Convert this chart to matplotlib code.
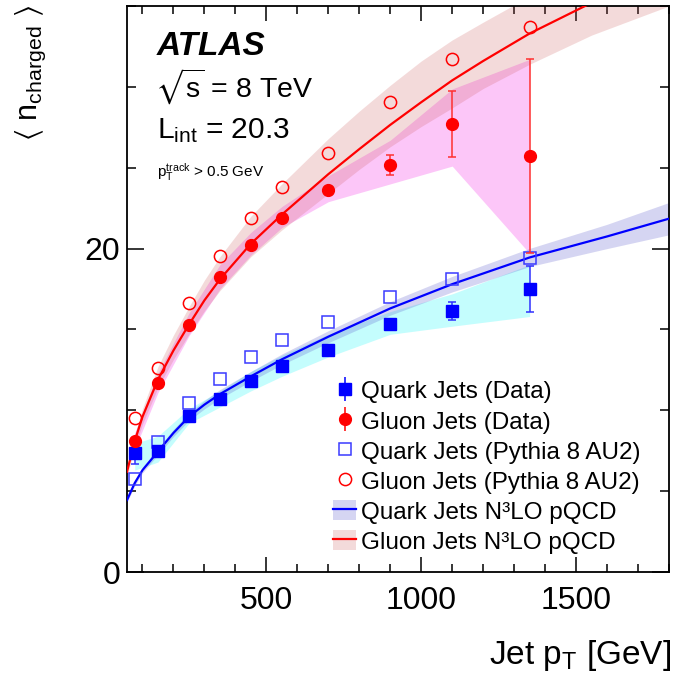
import matplotlib
matplotlib.use("Agg")
import matplotlib.pyplot as plt
from matplotlib.ticker import MultipleLocator, FixedLocator
from matplotlib.patches import Patch
from matplotlib.lines import Line2D

plt.rcParams['font.family'] = ['Liberation Sans', 'DejaVu Sans']
plt.rcParams['mathtext.fontset'] = 'custom'
plt.rcParams['mathtext.rm'] = 'Liberation Sans'
plt.rcParams['mathtext.it'] = 'Liberation Sans:italic'
plt.rcParams['mathtext.bf'] = 'Liberation Sans:bold'
plt.rcParams['mathtext.fallback'] = 'stixsans'

# ---------------- data ----------------
pt = [75, 150, 250, 350, 450, 550, 700, 900, 1100, 1350]

quark_data = [7.33, 7.47, 9.67, 10.68, 11.82, 12.75, 13.74, 15.33, 16.16, 17.5]
quark_err = [0.65, 0.1, 0.1, 0.1, 0.1, 0.1, 0.1, 0.15, 0.55, 1.45]
quark_sys_hi = [7.95, 8.4, 10.1, 11.2, 12.4, 13.4, 14.7, 16.1, 17.2, 19.0]
quark_sys_lo = [6.3, 6.8, 9.2, 10.2, 11.2, 12.1, 13.3, 14.7, 15.2, 15.8]

gluon_data = [8.11, 11.71, 15.29, 18.25, 20.24, 21.89, 23.65, 25.17, 27.7, 25.7]
gluon_err = [0.15, 0.1, 0.1, 0.1, 0.1, 0.1, 0.1, 0.6, 2.05, 6.0]
gluon_sys_hi = [8.6, 12.3, 16.0, 19.0, 21.0, 22.6, 24.5, 26.7, 29.87, 31.7]
gluon_sys_lo = [7.6, 11.1, 14.6, 17.5, 19.6, 21.3, 22.9, 24.0, 25.1, 19.7]

quark_pythia = [5.74, 8.05, 10.43, 11.94, 13.27, 14.36, 15.46, 17.0, 18.14, 19.43]
gluon_pythia = [9.54, 12.64, 16.64, 19.57, 21.87, 23.81, 25.94, 29.08, 31.73, 33.73]

# N3LO pQCD curves
th_pt = [50, 75, 100, 150, 200, 250, 300, 350, 450, 550, 700, 800, 900, 1000, 1100, 1200, 1350, 1550, 1800]
gluon_th = [6.2, 8.1, 9.6, 11.9, 13.7, 15.3, 16.8, 18.1, 20.3, 22.1, 24.6, 26.15, 27.65, 29.05, 30.4, 31.6, 33.3, 35.2, 37.5]
gluon_th_hi = [6.5, 8.5, 10.1, 12.7, 14.65, 16.4, 18.05, 19.5, 22.0, 24.0, 26.8, 28.5, 30.1, 31.6, 32.9, 34.0, 35.6, 37.8, 40.3]
gluon_th_lo = [5.9, 7.7, 9.15, 11.4, 13.15, 14.7, 16.15, 17.4, 19.5, 21.15, 23.4, 24.9, 26.3, 27.55, 28.7, 29.9, 31.4, 33.2, 35.0]

th_pt_q = [50, 75, 100, 150, 200, 250, 300, 350, 450, 550, 700, 900, 1100, 1350, 1600, 1800]
quark_th = [4.45, 5.5, 6.3, 7.45, 8.6, 9.6, 10.35, 11.0, 12.1, 13.15, 14.55, 16.3, 17.8, 19.45, 20.75, 21.85]
quark_th_hi = [4.6, 5.66, 6.47, 7.65, 8.82, 9.84, 10.61, 11.28, 12.4, 13.48, 14.92, 16.72, 18.28, 20.01, 21.5, 22.85]
quark_th_lo = [4.3, 5.34, 6.13, 7.25, 8.38, 9.36, 10.09, 10.72, 11.8, 12.82, 14.18, 15.88, 17.32, 18.89, 20.0, 20.85]

x_ticks = [500, 1000, 1500]
y_ticks = [0, 20]

# ---------------- figure ----------------
W = 673.0
fig = plt.figure(figsize=(6.73, 6.73), dpi=100)
ax = fig.add_axes([127 / W, 1 - 572 / W, (669 - 127) / W, (572 - 6) / W])
ax.set_xlim(50, 1800)
ax.set_ylim(0, 35)

BLUE = '#0000ff'
RED = '#ff0000'

# data systematic bands
ax.fill_between(pt, quark_sys_lo, quark_sys_hi, color='#c4fdfd', lw=0, zorder=1)
ax.fill_between(pt, gluon_sys_lo, gluon_sys_hi, color='#fcc6f8', lw=0, zorder=1)

# theory bands
ax.fill_between(th_pt_q, quark_th_lo, quark_th_hi, color=(0.35, 0.35, 0.8), alpha=0.25, lw=0, zorder=2)
ax.fill_between(th_pt, gluon_th_lo, gluon_th_hi, color=(0.8, 0.35, 0.35), alpha=0.22, lw=0, zorder=2)
ax.plot(th_pt_q, quark_th, color=BLUE, lw=1.6, zorder=3)
ax.plot(th_pt, gluon_th, color=RED, lw=1.6, zorder=3)

# pythia
ax.plot(pt, quark_pythia, ls='none', marker='s', ms=8.8, mfc='none', mec='#3b3bff', mew=1.1, zorder=4)
ax.plot(pt, gluon_pythia, ls='none', marker='o', ms=8.8, mfc='none', mec=RED, mew=1.1, zorder=4)

# data
ax.errorbar(pt, quark_data, yerr=quark_err, fmt='s', ms=8.5, color=BLUE, ecolor='#3030ff',
            elinewidth=1.1, capsize=3, capthick=1.1, zorder=5)
ax.errorbar(pt, gluon_data, yerr=gluon_err, fmt='o', ms=8.5, color=RED, ecolor='#ff3030',
            elinewidth=1.1, capsize=3, capthick=1.1, zorder=5)

# axes style
for s in ax.spines.values():
    s.set_linewidth(1.3)
ax.xaxis.set_major_locator(FixedLocator(x_ticks))
ax.xaxis.set_minor_locator(MultipleLocator(100))
ax.yaxis.set_major_locator(FixedLocator(y_ticks))
ax.yaxis.set_minor_locator(MultipleLocator(5))
ax.tick_params(axis='both', which='both', direction='in', top=True, right=True, width=1.1)
ax.tick_params(axis='x', which='major', length=11, labelsize=23, pad=10)
ax.tick_params(axis='x', which='minor', length=5.5)
ax.tick_params(axis='y', which='major', length=12.5, labelsize=23, pad=5)
ax.tick_params(axis='y', which='minor', length=6.5)

# axis labels
fig.text(671 / W, 1 - 664 / W, r'Jet p$_{\mathrm{T}}$ [GeV]', ha='right', va='baseline', fontsize=24)
fig.text(31 / W, 1 - 5 / W, r'$\langle$ n$_{\mathrm{charged}}$ $\rangle$', rotation=90,
         ha='center', va='top', fontsize=22)

# annotations
fig.text(157 / W, 1 - 55 / W, 'ATLAS', fontsize=24, fontweight='bold', style='italic', va='baseline')
fig.text(155 / W, 1 - 98 / W, r'$\sqrt{\mathrm{s}}$ = 8 TeV', fontsize=20.5, va='baseline')
fig.text(157 / W, 1 - 138 / W, r'L$_{\mathrm{int}}$ = 20.3', fontsize=21.5, va='baseline')
fig.text(157 / W, 1 - 177 / W, r'p$_{\mathrm{T}}^{\mathrm{track}}$ > 0.5 GeV', fontsize=11, va='baseline')

# legend
h_qd = ax.errorbar([], [], yerr=[], fmt='s', ms=8.5, color=BLUE, elinewidth=1.1)
h_gd = ax.errorbar([], [], yerr=[], fmt='o', ms=8.5, color=RED, elinewidth=1.1)
h_qp = Line2D([], [], ls='none', marker='s', ms=8.8, mfc='none', mec='#3b3bff', mew=1.1)
h_gp = Line2D([], [], ls='none', marker='o', ms=8.8, mfc='none', mec=RED, mew=1.1)
h_qt = (Patch(facecolor=(0.35, 0.35, 0.8), alpha=0.25, lw=0), Line2D([], [], color=BLUE, lw=1.6))
h_gt = (Patch(facecolor=(0.8, 0.35, 0.35), alpha=0.22, lw=0), Line2D([], [], color=RED, lw=1.6))
leg = ax.legend([h_qd, h_gd, h_qp, h_gp, h_qt, h_gt],
                ['Quark Jets (Data)', 'Gluon Jets (Data)', 'Quark Jets (Pythia 8 AU2)',
                 'Gluon Jets (Pythia 8 AU2)', 'Quark Jets N\u00b3LO pQCD', 'Gluon Jets N\u00b3LO pQCD'],
                loc='upper left', bbox_to_anchor=(333 / W, 1 - 380 / W), bbox_transform=fig.transFigure,
                frameon=False, fontsize=17.5, handlelength=0.95, handletextpad=0.22,
                labelspacing=0.27, borderpad=0, borderaxespad=0, handleheight=0.9)

fig.savefig('out.png', dpi=100)
